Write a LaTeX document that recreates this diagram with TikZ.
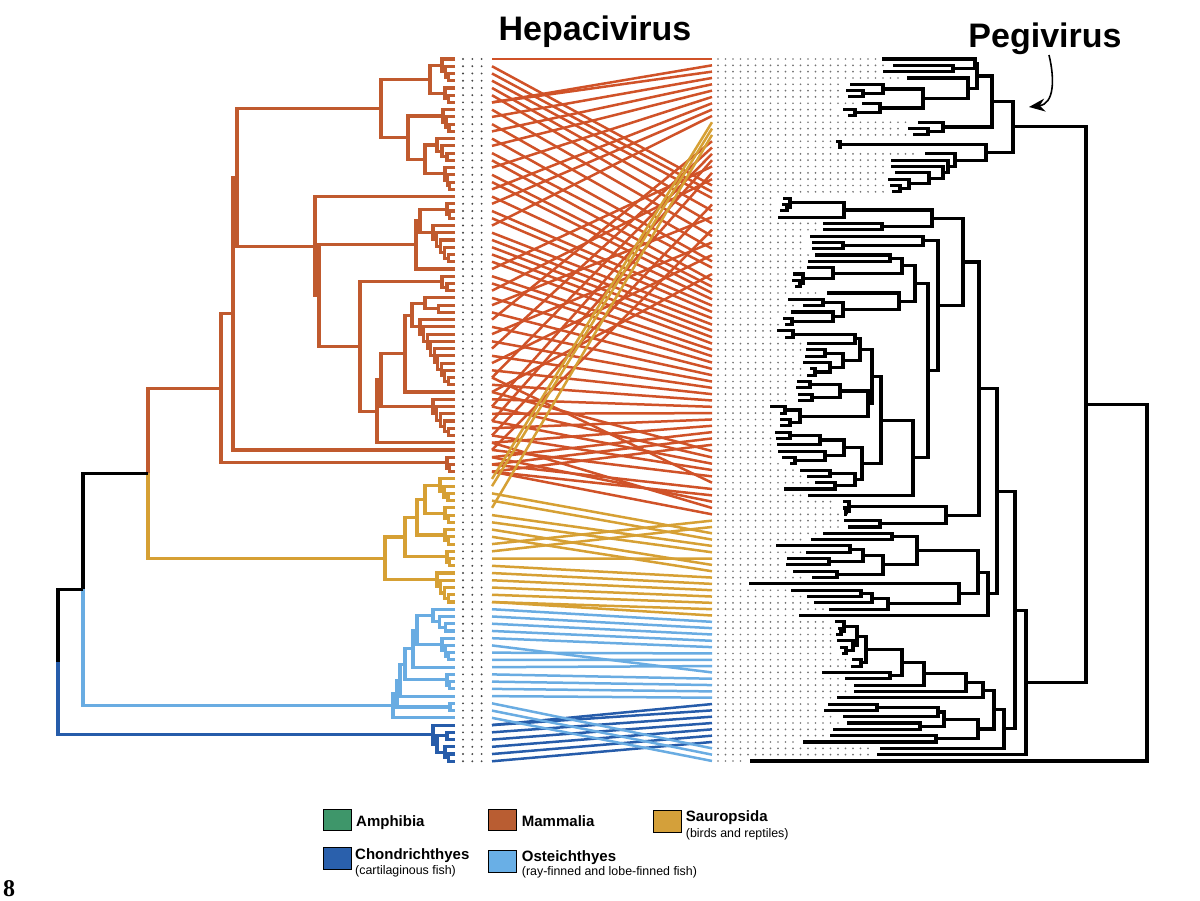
\documentclass[tikz,border=0pt]{standalone}
\usepackage{fontspec}
\setmainfont{Liberation Sans}
\newfontfamily\serifnum{Liberation Serif}
\usetikzlibrary{calc,arrows.meta}

\definecolor{mamT}{RGB}{192,90,46}
\definecolor{mamL}{RGB}{208,82,40}
\definecolor{sauC}{RGB}{214,160,52}
\definecolor{ostC}{RGB}{105,172,226}
\definecolor{choC}{RGB}{38,92,170}
\definecolor{amphC}{RGB}{62,150,106}
\definecolor{mamBox}{RGB}{185,93,50}
\definecolor{sauBox}{RGB}{212,160,58}
\definecolor{ostBox}{RGB}{105,175,230}
\definecolor{choBox}{RGB}{42,96,172}
\definecolor{dotC}{RGB}{70,70,70}
\definecolor{dotR}{RGB}{115,115,115}

% node joining two children (bracket)
\newcommand\Nd[4]{%
  \path ($(#3)!0.5!(#4)$) coordinate (tmpm) (#2,0) coordinate (tmpx);
  \coordinate (#1) at (tmpx |- tmpm);
  \draw (#3) -| (#1) |- (#4);}
% node coordinate only
\newcommand\Nc[4]{%
  \path ($(#3)!0.5!(#4)$) coordinate (tmpm) (#2,0) coordinate (tmpx);
  \coordinate (#1) at (tmpx |- tmpm);}
% comb cluster on left host tree: name, first tip, last tip, root x
\newcommand\Lcomb[4]{%
  \coordinate (#1-#3) at (L#3);
  \pgfmathtruncatemacro\cmbm{#3-1}%
  \foreach \i [evaluate=\i as \ip using int(\i+1), evaluate=\i as \xx using #4+(\i-#2)*(452-#4)/(#3-#2)] in {\cmbm,...,#2} {%
    \Nd{#1-\i}{\xx}{L\i}{#1-\ip}}%
  \coordinate (#1) at (#1-#2);}

\tikzset{
  treeline/.style={line width=3.1pt},
  mamtree/.style={treeline, draw=mamT},
  sautree/.style={treeline, draw=sauC},
  osttree/.style={treeline, draw=ostC},
  chotree/.style={treeline, draw=choC},
  blktree/.style={treeline, draw=black},
  mline/.style={line width=2.5pt},
  ldot/.style={draw=dotC, line width=2.1pt, line cap=round, dash pattern=on 0pt off 9.3pt},
  rdot/.style={draw=dotR, line width=1.9pt, line cap=round, dash pattern=on 0pt off 7.5pt},
  lgbox/.style={draw=black, line width=0.8pt, minimum width=28pt, minimum height=21.5pt, inner sep=0pt},
  lgtext/.style={font=\fontsize{15}{18}\selectfont\bfseries, inner sep=0pt, anchor=base west},
  lgsub/.style={font=\fontsize{12.4}{15}\selectfont, inner sep=0pt, anchor=base west},
  ttl/.style={font=\fontsize{34}{40}\selectfont\bfseries, inner sep=0pt, anchor=base}
}

\begin{document}
\begin{tikzpicture}[x=1pt,y=-1pt]
\fill[white] (0,0) rectangle (1200,901);
\useasboundingbox (0,0) rectangle (1200,901);

% ---------- tip coordinates ----------
\foreach \k in {0,...,97} {
  \coordinate (L\k) at (455,{59+7.24*\k});
  \coordinate (a\k) at (492,{59+7.24*\k});
}
\foreach \j/\x in {0/882,1/893,2/883,3/907,4/850,5/846,6/848,7/862,8/843,9/848,
  10/918,11/908,12/913,13/836,14/838,15/925,16/891,17/891,18/895,19/888,
  20/890,21/892,22/783,23/782,24/780,25/778,26/823,27/823,28/810,29/812,
  30/812,31/815,32/808,33/807,34/793,35/792,36/795,37/827,38/788,39/803,
  40/791,41/783,42/785,43/777,44/785,45/807,46/806,47/805,48/803,49/810,
  50/807,51/797,52/796,53/798,54/798,55/770,56/780,57/780,58/780,59/775,
  60/776,61/777,62/778,63/782,64/790,65/800,66/807,67/815,68/784,69/808,
  70/843,71/843,72/847,73/844,74/848,75/823,76/811,77/776,78/806,79/787,
  80/786,81/793,82/812,83/749,84/791,85/807,86/814,87/829,88/799,89/835,
  90/838,91/836,92/837,93/840,94/842,95/852,96/851,97/822,98/845,99/854,
  100/854,101/837,102/828,103/824,104/843,105/847,106/833,107/830,108/803,109/880,
  110/877,111/750} {
  \coordinate (R\j) at (\x,{59+6.324*\j});
  \coordinate (b\j) at (712,{59+6.324*\j});
}

% ---------- dotted rows ----------
\foreach \k in {0,...,97} { \draw[ldot] ($(L\k)+(8,0)$) -- ($(a\k)+(-2,0)$); }
\foreach \j in {0,...,111} { \draw[rdot] ($(b\j)+(6,0)$) -- ($(R\j)+(-5,0)$); }

% ---------- host tree ----------
\begin{scope}[mamtree]
\Lcomb{A1a}{0}{3}{442}
\Lcomb{A1b}{4}{6}{445}
\Nd{A1}{430}{A1a}{A1b}
\Lcomb{A2a}{7}{10}{443}
\Lcomb{A2c}{11}{14}{437}
\Lcomb{A2d}{15}{18}{445}
\Nd{A2b}{425}{A2c}{A2d}
\Nd{A2}{408}{A2a}{A2b}
\Nd{A}{381}{A1}{A2}
\Lcomb{B1a}{20}{22}{447}
\Lcomb{B1b}{23}{28}{433}
\Nd{B1c}{420}{B1a}{B1b}
\Nd{B1}{416}{B1c}{L29}
\Lcomb{Ra}{30}{32}{442}
\Lcomb{Va}{33}{35}{425}
\Lcomb{Vb}{36}{45}{420}
\Nd{V}{412}{Va}{Vb}
\Nd{U}{405}{V}{L46}
\Lcomb{Ta}{47}{52}{433}
\Nd{T}{381}{U}{Ta}
\Nd{S}{377}{T}{L53}
\Nd{Rn}{360}{Ra}{S}
\Nd{Q}{319}{B1}{Rn}
\Nd{P}{315}{L19}{Q}
\Nd{W}{237}{A}{P}
\Nd{W2}{233}{W}{L54}
\Lcomb{Xa}{55}{57}{447}
\Nd{X}{221}{W2}{Xa}
\end{scope}

\begin{scope}[sautree]
\Lcomb{S3a}{58}{61}{440}
\Lcomb{S3b}{62}{64}{445}
\Nd{S3}{425}{S3a}{S3b}
\Lcomb{S2b}{65}{67}{445}
\Nd{S2}{417}{S3}{S2b}
\Lcomb{S1b}{68}{70}{447}
\Nd{S1}{405}{S2}{S1b}
\Lcomb{S0b}{71}{75}{437}
\Nd{Sau}{385}{S1}{S0b}
\end{scope}

\begin{scope}[osttree]
\Lcomb{O1}{76}{79}{433}
\Lcomb{O2}{80}{83}{442}
\Nd{O3}{417}{O1}{O2}
\Nd{O4}{413}{O3}{L84}
\Lcomb{O5b}{85}{87}{447}
\Nd{O5}{405}{O4}{O5b}
\Nd{O6}{400}{O5}{L88}
\Nd{O7b}{450}{L89}{L90}
\Nd{O7}{397}{O6}{O7b}
\Nd{O}{393}{O7}{L91}
\end{scope}

\begin{scope}[chotree]
\Nd{C2a}{447}{L93}{L94}
\Lcomb{C2b}{95}{97}{445}
\Nd{C2}{437}{C2a}{C2b}
\Nd{C}{433}{L92}{C2}
\end{scope}

\Nc{MS}{148}{X}{Sau}
\draw[mamtree] (X) -| (MS);
\draw[sautree] (MS) |- (Sau);
\Nc{G}{83}{MS}{O}
\draw[blktree] (MS) -| (G);
\draw[osttree] (G) |- (O);
\Nc{Rt}{58}{G}{C}
\draw[blktree] (G) -| (Rt);
\draw[chotree] (Rt) |- (C);

% ---------- virus tree ----------
\begin{scope}[blktree]
\Nd{P1}{953}{R1}{R2}
\Nd{P2}{975}{R0}{P1}
\Nd{P3a}{863}{R5}{R6}
\Nd{P3}{883}{R4}{P3a}
\Nd{P4a}{855}{R8}{R9}
\Nd{P4}{880}{R7}{P4a}
\Nd{P5}{923}{P3}{P4}
\Nd{P6}{968}{R3}{P5}
\Nd{P7}{977}{P2}{P6}
\Nd{Qa}{928}{R11}{R12}
\Nd{Qv}{943}{R10}{Qa}
\Nd{P8}{992}{P7}{Qv}
\Nd{C13}{840}{R13}{R14}
\Nd{RR6}{900}{R20}{R21}
\Nd{RR5}{909}{R19}{RR6}
\Nd{RR4}{929}{R18}{RR5}
\Nd{RR3}{943}{R17}{RR4}
\Nd{RR2}{948}{R16}{RR3}
\Nd{RR}{955}{R15}{RR2}
\Nd{P9}{986}{C13}{RR}
\Nd{P10}{1013}{P8}{P9}
% hepacivirus
\Nd{H8b}{787}{R23}{R24}
\Nd{H8a}{790}{R22}{H8b}
\Nd{H8c}{844}{H8a}{R25}
\Nd{H8d}{882}{R26}{R27}
\Nd{H8}{932}{H8c}{H8d}
\Nd{H10a}{843}{R29}{R30}
\Nd{H10}{923}{R28}{H10a}
\Nd{H14a}{890}{R31}{R32}
\Nd{H14d}{800}{R35}{R36}
\Nd{H14c}{803}{R34}{H14d}
\Nd{H14b}{833}{R33}{H14c}
\Nd{H14}{902}{H14a}{H14b}
\Nd{H15d}{792}{R41}{R42}
\Nd{H15c}{833}{R40}{H15d}
\Nd{H15b}{823}{R38}{R39}
\Nd{H15a}{843}{H15b}{H15c}
\Nd{H15}{899}{R37}{H15a}
\Nd{H12}{915}{H14}{H15}
\Nd{H19a}{793}{R43}{R44}
\Nd{H19b}{855}{H19a}{R45}
\Nd{H19c}{825}{R46}{R47}
\Nd{H19e}{815}{R49}{R50}
\Nd{H19d}{830}{R48}{H19e}
\Nd{H19f}{843}{H19c}{H19d}
\Nd{H19}{860}{H19b}{H19f}
\Nd{H20a}{810}{R51}{R52}
\Nd{H20b}{812}{R53}{R54}
\Nd{H20c}{840}{H20a}{H20b}
\Nd{H20d}{785}{R55}{R56}
\Nd{H20e}{790}{R57}{R58}
\Nd{H20f}{800}{H20d}{H20e}
\Nd{H20}{868}{H20c}{H20f}
\Nd{H17}{872}{H19}{H20}
\Nd{H21a}{790}{R59}{R60}
\Nd{H21b}{820}{H21a}{R61}
\Nd{H21d}{795}{R63}{R64}
\Nd{H21c}{825}{R62}{H21d}
\Nd{H21}{844}{H21b}{H21c}
\Nd{H22a}{830}{R65}{R66}
\Nd{H22b}{835}{R67}{R68}
\Nd{H22}{855}{H22a}{H22b}
\Nd{H18}{862}{H21}{H22}
\Nd{H16}{881}{H17}{H18}
\Nd{H13}{913}{H16}{R69}
\Nd{H11}{928}{H12}{H13}
\Nd{H9}{938}{H10}{H11}
\Nd{H6}{963}{H8}{H9}
\Nd{H7c}{846}{R71}{R72}
\Nd{H7a}{849}{R70}{H7c}
\Nd{H7b}{880}{R73}{R74}
\Nd{H7}{946}{H7a}{H7b}
\Nd{H4}{979}{H6}{H7}
\Nd{H5g}{892}{R75}{R76}
\Nd{H5e}{850}{R77}{R78}
\Nd{H5f}{829}{R79}{R80}
\Nd{H5h}{863}{H5e}{H5f}
\Nd{H5i}{837}{R81}{R82}
\Nd{H5d}{883}{H5h}{H5i}
\Nd{H5b}{917}{H5g}{H5d}
\Nd{H5k}{861}{R84}{R85}
\Nd{H5l}{872}{H5k}{R86}
\Nd{H5m}{888}{H5l}{R87}
\Nd{H5c}{959}{R83}{H5m}
\Nd{H5a}{978}{H5b}{H5c}
\Nd{H5}{988}{H5a}{R88}
\Nd{H2}{997}{H4}{H5}
\Nd{Hl4c}{841}{R90}{R91}
\Nd{Hl4b}{844}{R89}{Hl4c}
\Nd{Hl4e}{846}{R93}{R94}
\Nd{Hl4d}{853}{R92}{Hl4e}
\Nd{Hl4a}{857}{Hl4b}{Hl4d}
\Nd{Hl4f}{861}{R95}{R96}
\Nd{Hl4}{866}{Hl4a}{Hl4f}
\Nd{Hl3a}{890}{R97}{R98}
\Nd{Hl3}{902}{Hl4}{Hl3a}
\Nd{Hl2}{924}{Hl3}{R99}
\Nd{Hl1}{966}{Hl2}{R100}
\Nd{Hl}{983}{Hl1}{R101}
\Nd{Hd1}{877}{R102}{R103}
\Nd{Hd2}{938}{Hd1}{R104}
\Nd{Hd3}{920}{R105}{R106}
\Nd{Hd4}{944}{Hd2}{Hd3}
\Nd{Hd5}{936}{R107}{R108}
\Nd{Hd}{978}{Hd4}{Hd5}
\Nd{H3a}{994}{Hl}{Hd}
\Nd{H3}{1004}{H3a}{R109}
\Nd{H1}{1015}{H2}{H3}
\Nd{H}{1026}{H1}{R110}
\Nd{Top}{1086}{P10}{H}
\Nd{Root}{1147}{Top}{R111}
\end{scope}

% ---------- association lines ----------
\foreach \jj/\kk in {0/0,1/6,2/6,3/8,4/10,5/12,6/15,7/18,8/20,9/23,
  13/36,14/40,15/44,16/48,17/29,18/50,19/32,20/1,21/2,22/3,23/52,24/4,25/34,
  26/5,27/54,28/7,29/38,30/9,31/42,32/11,33/13,34/46,35/14,36/16,37/17,38/19,
  39/21,40/22,41/24,42/25,43/26,44/27,45/28,46/30,47/31,48/33,49/35,50/37,
  51/39,52/41,53/43,54/45,55/47,56/49,57/51,58/53,59/55,60/56,61/57,62/46,
  63/48,64/50,65/52,66/54,67/44,68/56,69/57,70/55,71/53,72/57}
  { \draw[mline, draw=mamL] (a\kk) -- (b\jj); }
\foreach \jj/\kk in {10/58,11/59,12/62,75/60,76/61,77/63,78/64,80/65,81/66,
  73/67,74/68,79/69,82/70,83/71,84/72,85/73,86/74,87/75,88/75}
  { \draw[mline, draw=sauC] (a\kk) -- (b\jj); }
\foreach \jj/\kk in {89/76,90/77,91/78,92/79,93/80,97/81,94/82,95/83,96/84,
  98/85,99/86,100/87,101/88}
  { \draw[mline, draw=ostC] (a\kk) -- (b\jj); }
\foreach \jj/\kk in {102/92,103/92,104/93,105/94,106/95,107/96,108/97}
  { \draw[mline, draw=choC] (a\kk) -- (b\jj); }
\foreach \jj/\kk in {109/89,110/90,111/91}
  { \draw[mline, draw=ostC] (a\kk) -- (b\jj); }

% ---------- titles ----------
\node[ttl] (hep) at (595,41) {Hepacivirus};
\node[ttl] (peg) at (1045,48) {Pegivirus};
\coordinate (arrS) at (1049,55);
\coordinate (arrE) at (1029,107);
\draw[line width=1.6pt, -{Stealth[length=16pt,width=13pt]}] (arrS) .. controls (1055,80) and (1054,104) .. (arrE);

% ---------- legend ----------
\node[lgbox, fill=amphC] (bAmph) at (337.2,820) {};
\node[lgtext] (tAmph) at (356,826) {Amphibia};
\node[lgbox, fill=mamBox] (bMam) at (502.5,820) {};
\node[lgtext] (tMam) at (521.7,826) {Mammalia};
\node[lgbox, fill=sauBox] (bSau) at (667,821.2) {};
\node[lgtext] (tSau) at (685.7,821) {Sauropsida};
\node[lgsub] (sSau) at (685.7,837.5) {(birds and reptiles)};
\node[lgbox, fill=choBox] (bCho) at (337.2,858.2) {};
\node[lgtext] (tCho) at (355,859) {Chondrichthyes};
\node[lgsub] (sCho) at (355,874) {(cartilaginous fish)};
\node[lgbox, fill=ostBox] (bOst) at (502.8,861.5) {};
\node[lgtext] (tOst) at (521.7,861) {Osteichthyes};
\node[lgsub] (sOst) at (521.7,875) {(ray-finned and lobe-finned fish)};

\node[font=\serifnum\fontsize{24}{28}\selectfont\bfseries, inner sep=0pt, anchor=base west] (pg) at (3,896) {8};
\end{tikzpicture}
\end{document}
